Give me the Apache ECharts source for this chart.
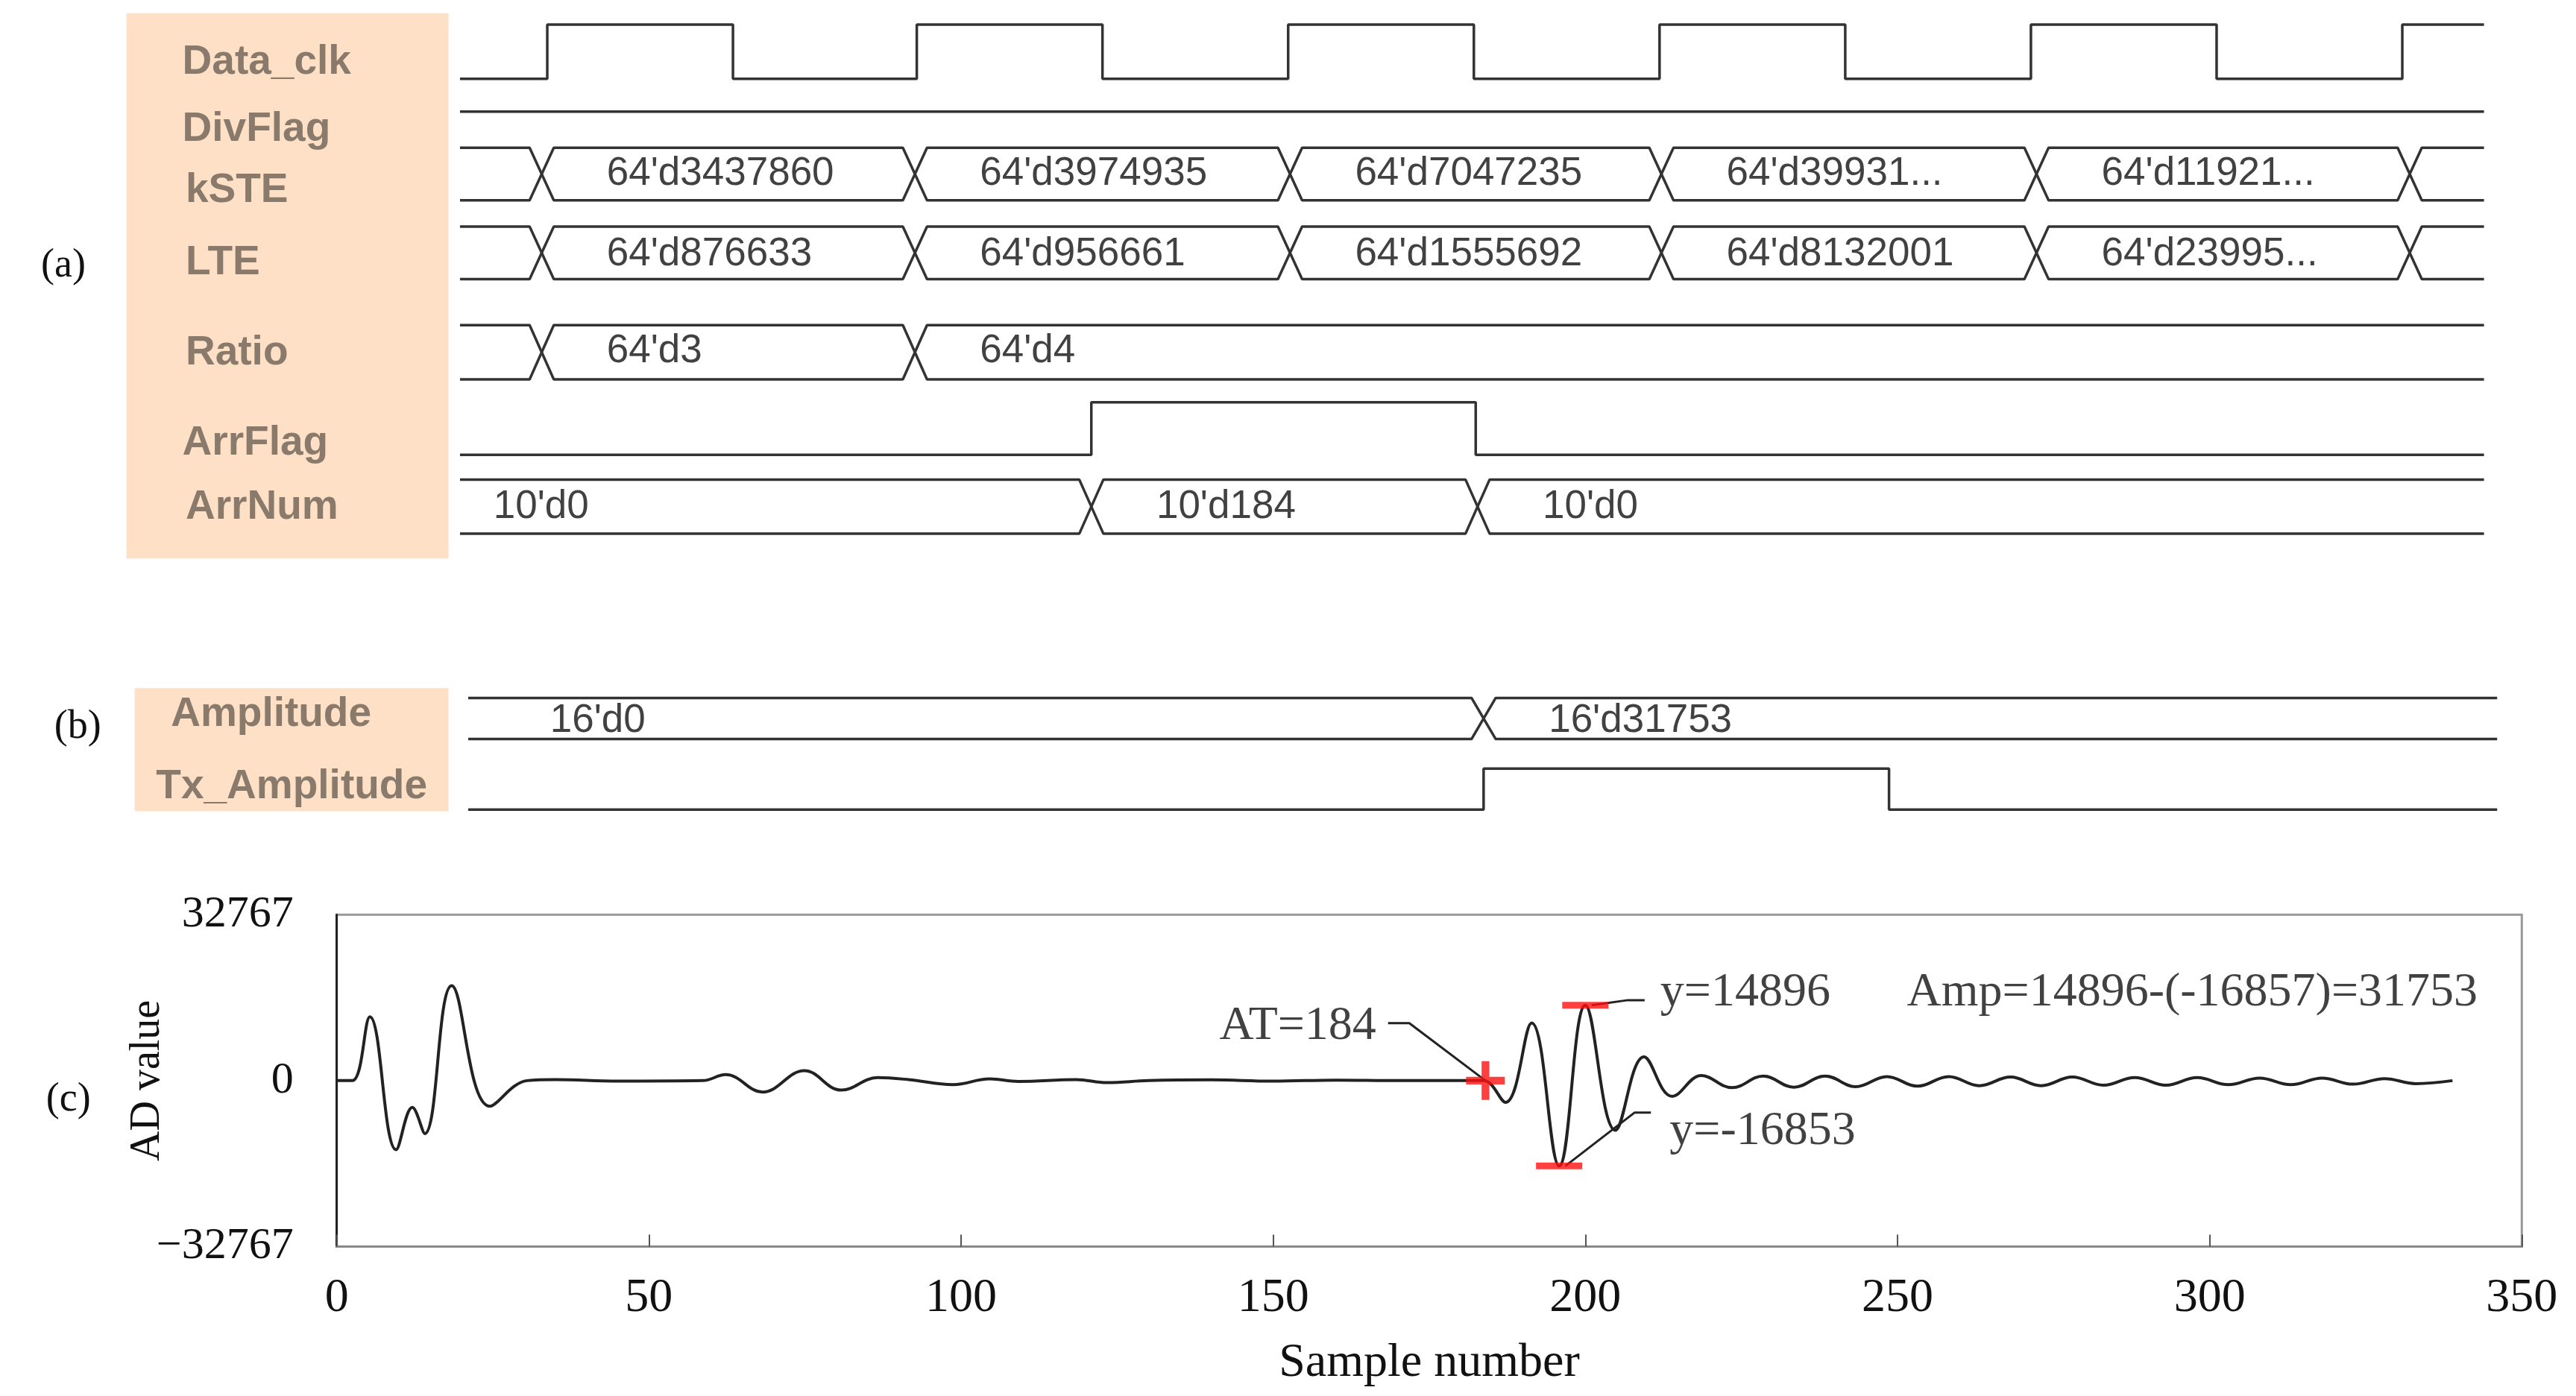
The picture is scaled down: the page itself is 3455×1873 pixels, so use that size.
<!DOCTYPE html>
<html>
<head>
<meta charset="utf-8">
<script src="https://cdn.jsdelivr.net/npm/echarts@6/dist/echarts.min.js"></script>
<style>
  html, body { margin: 0; padding: 0; background: #fff; }
  #chart { width: 3455px; height: 1873px; }
</style>
</head>
<body>
<div id="chart"></div>
<script>
// ---- data: timing diagram (time in clock-tick units) ----
const clkEdges = [4.7, 14.7, 24.6, 34.6, 44.6, 54.6, 64.6, 74.6, 84.6, 94.6, 104.6];
const busEdges = [4.4, 24.5, 44.7, 64.7, 84.9, 105];
const kSTEValues = ["64'd3437860", "64'd3974935", "64'd7047235", "64'd39931...", "64'd11921..."];
const lteValues = ["64'd876633", "64'd956661", "64'd1555692", "64'd8132001", "64'd23995..."];
const ratioEdges = [4.4, 24.5];
const ratioValues = ["64'd3", "64'd4"];
const arrFlagEdges = [34.0, 54.7];
const arrNumEdges = [34.0, 54.8];
const arrNumValues = ["10'd0", "10'd184", "10'd0"];
const ampEdges = [54.6];
const ampValues = ["16'd0", "16'd31753"];
const txEdges = [54.6, 76.4];
const timeEndA = 109;
const timeEndB = 109.1;

// ---- data: AD waveform ----
const waveX = [0, 2.5, 5.3, 9.5, 12.1, 14.1, 18.4, 24.5, 30.5, 35, 45, 58.6, 62.3, 68.2, 74.9, 80.8, 86.6, 91.6, 98.7, 104.6, 109.2, 118.4, 123.4, 130, 140, 150, 160, 170, 180, 183.7, 187.2, 191.4, 195.8, 200, 204.8, 209.4, 213.9, 218.6, 223.5, 228.5, 233.4, 238.4, 243.3, 248.3, 253.2, 258.2, 263.1, 268.1, 273, 278, 283, 288, 293, 298, 303, 308, 313, 318, 323, 328, 333, 338.9];
const waveY = [0, 0, 12600, -13650, -5300, -10460, 18750, -5060, 0, 200, -100, 0, 1180, -2260, 1960, -1870, 590, 200, -790, 340, -150, 200, -400, 0, 150, -100, 100, 0, 0, 0, -4300, 11400, -16853, 14896, -9800, 4700, -3100, 1000, -1400, 900, -1300, 900, -1200, 800, -1100, 800, -1000, 700, -1000, 700, -900, 600, -900, 600, -800, 500, -800, 500, -700, 400, -600, 0];
const atPoint = [184, 0];
const maxPoint = [200, 14896];
const minPoint = [195.8, -16853];

const K = 3455 / 1568;
const px = (v) => v * K;
const chart = echarts.init(document.getElementById("chart"));

const W = 0.65; // half-width of bus crossing
const lineStyle = { color: "#333", width: 3.5 };

function stepLine(edges, end, lo, hi, startHigh) {
  let lvl = startHigh ? hi : lo;
  const pts = [[0, lvl]];
  edges.forEach((e) => {
    pts.push([e, lvl]);
    lvl = lvl === hi ? lo : hi;
    pts.push([e, lvl]);
  });
  pts.push([end, lvl]);
  return pts;
}

function busLines(edges, end, top, bot) {
  const a = [[0, top]], b = [[0, bot]];
  let la = top, lb = bot;
  edges.forEach((e) => {
    a.push([e - W, la]); b.push([e - W, lb]);
    la = la === top ? bot : top; lb = lb === top ? bot : top;
    a.push([e + W, la]); b.push([e + W, lb]);
  });
  a.push([end, la]); b.push([end, lb]);
  return [a, b];
}

function busText(edges, values, y, firstAt) {
  return values.map((v, i) => [i === 0 && firstAt != null ? firstAt : edges[i - (firstAt != null ? 1 : 0)] + 3.5, y, v]);
}

const series = [];
function addLine(pts, gi, style) {
  series.push({
    type: "line", xAxisIndex: gi, yAxisIndex: gi, data: pts, symbol: "none",
    lineStyle: style || lineStyle, animation: false, silent: true,
  });
}
function addText(pts, gi, font) {
  series.push({
    type: "scatter", xAxisIndex: gi, yAxisIndex: gi, data: pts, symbolSize: 0,
    animation: false, silent: true,
    label: Object.assign({ show: true, position: "right", distance: 0, formatter: (p) => p.data[2] }, font),
  });
}
const busFont = { fontFamily: "Liberation Sans Narrow, Liberation Sans", fontSize: 53, color: "#111" };

// panel (a)
addLine(stepLine(clkEdges, timeEndA, 48, 15, false), 0);
addLine([[0, 68], [timeEndA, 68]], 0);
busLines(busEdges, timeEndA, 90, 122).forEach((l) => addLine(l, 0));
addText(busText(busEdges, kSTEValues, 106), 0, busFont);
busLines(busEdges, timeEndA, 138, 170).forEach((l) => addLine(l, 0));
addText(busText(busEdges, lteValues, 155), 0, busFont);
busLines(ratioEdges, timeEndA, 198, 231).forEach((l) => addLine(l, 0));
addText(busText(ratioEdges, ratioValues, 214), 0, busFont);
addLine(stepLine(arrFlagEdges, timeEndA, 277, 245, false), 0);
busLines(arrNumEdges, timeEndA, 292, 325).forEach((l) => addLine(l, 0));
addText(busText(arrNumEdges, arrNumValues, 309, 1.8), 0, busFont);

// panel (b)
busLines(ampEdges, timeEndB, 425, 450).forEach((l) => addLine(l, 1));
addText(busText(ampEdges, ampValues, 439, 4.4), 1, busFont);
addLine(stepLine(txEdges, timeEndB, 493, 468, false), 1);

// panel (c)
series.push({
  type: "line", xAxisIndex: 2, yAxisIndex: 2, data: waveX.map((x, i) => [x, waveY[i]]),
  symbol: "none", smooth: 0.4, lineStyle: { color: "#222", width: 4 }, animation: false, z: 3,
});
const serif = { fontFamily: "Liberation Serif", fontSize: 64, color: "#111" };
const leader = { color: "#222", width: 3 };
addLine([[168.4, 11350], [171.8, 11350], atPoint], 2, leader);
addLine([[maxPoint[0] + 1, maxPoint[1]], [206.8, 15900], [209.5, 15900]], 2, leader);
addLine([[minPoint[0] + 1, minPoint[1]], [207.9, -6300], [210.5, -6300]], 2, leader);
series.push({
  type: "scatter", xAxisIndex: 2, yAxisIndex: 2, animation: false, silent: true, z: 5,
  itemStyle: { color: "#ff1010" },
  data: [
    { value: atPoint, symbol: "path://M4,0H6V4H10V6H6V10H4V6H0V4H4Z", symbolSize: [52, 52] },
    { value: maxPoint, symbol: "rect", symbolSize: [62, 9] },
    { value: minPoint, symbol: "rect", symbolSize: [62, 9] },
  ],
});
series.push({
  type: "scatter", xAxisIndex: 2, yAxisIndex: 2, symbolSize: 0, animation: false, silent: true,
  data: [
    { value: [166.5, 10700], label: { position: "left", formatter: "AT=184" } },
    { value: [212, 17400], label: { formatter: "y=14896" } },
    { value: [213.5, -10000], label: { formatter: "y=-16853" } },
    { value: [251.5, 17400], label: { formatter: "Amp=14896-(-16857)=31753" } },
  ],
  label: Object.assign({ show: true, position: "right", distance: 0 }, serif),
});

const hidden = { show: false };
const labelFont = { fontFamily: "Liberation Sans Narrow, Liberation Sans", fontSize: 55, fontWeight: "bold", fill: "#8a7a6c" };
const sigLabels = [
  ["Data_clk", 111, 38], ["DivFlag", 111, 79], ["kSTE", 113, 116], ["LTE", 113, 160],
  ["Ratio", 113, 215], ["ArrFlag", 111, 270], ["ArrNum", 113, 309],
  ["Amplitude", 104, 435], ["Tx_Amplitude", 95, 479],
];
const graphic = [
  { type: "rect", shape: { x: px(77), y: px(8), width: px(196), height: px(332) }, style: { fill: "#fde0c6" }, z: -1 },
  { type: "rect", shape: { x: px(82), y: px(419), width: px(191), height: px(75) }, style: { fill: "#fde0c6" }, z: -1 },
  {
    type: "text", x: px(90), y: px(658), rotation: Math.PI / 2,
    style: { text: "AD value", fontFamily: "Liberation Serif", fontSize: 56, fill: "#111", align: "center", verticalAlign: "middle" },
  },
].concat(sigLabels.map(([t, x, y]) => ({
  type: "text", x: px(x), y: px(y), style: Object.assign({ text: t, verticalAlign: "middle" }, labelFont),
}))).concat([
  ["(a)", 25, 162], ["(b)", 33, 443], ["(c)", 28, 670],
].map(([t, x, y]) => ({
  type: "text", x: px(x), y: px(y),
  style: { text: t, fontFamily: "Liberation Serif", fontSize: 54, fill: "#111", verticalAlign: "middle" },
})));

chart.setOption({
  backgroundColor: "#fff",
  animation: false,
  graphic,
  grid: [
    { left: px(280), width: px(1232), top: 0, height: px(340) },
    { left: px(285), width: px(1235), top: px(400), height: px(100) },
    { left: px(205), width: px(1330), top: px(557), height: px(202), show: true, borderColor: "#999", borderWidth: 3 },
  ],
  xAxis: [
    { gridIndex: 0, type: "value", min: 0, max: timeEndA, show: false },
    { gridIndex: 1, type: "value", min: 0, max: timeEndB, show: false },
    {
      gridIndex: 2, type: "value", min: 0, max: 350, interval: 50,
      name: "Sample number", nameLocation: "middle", nameGap: 125,
      nameTextStyle: serif,
      axisLine: { onZero: false, lineStyle: { color: "#888", width: 3 } },
      axisTick: { inside: true, length: 16, lineStyle: { color: "#555", width: 2 } },
      axisLabel: Object.assign({ margin: 38 }, serif),
      splitLine: hidden,
    },
  ],
  yAxis: [
    { gridIndex: 0, type: "value", min: 0, max: 340, inverse: true, show: false },
    { gridIndex: 1, type: "value", min: 400, max: 500, inverse: true, show: false },
    {
      gridIndex: 2, type: "value", min: -32767, max: 32767, interval: 32767,
      axisLine: { show: true, onZero: false, lineStyle: { color: "#222", width: 3 } },
      axisTick: hidden,
      axisLabel: Object.assign({ margin: 58, formatter: (v) => (v < 0 ? "\u221232767" : String(v)) }, serif, { fontSize: 60 }),
      splitLine: hidden,
    },
  ],
  series,
});
</script>
</body>
</html>
